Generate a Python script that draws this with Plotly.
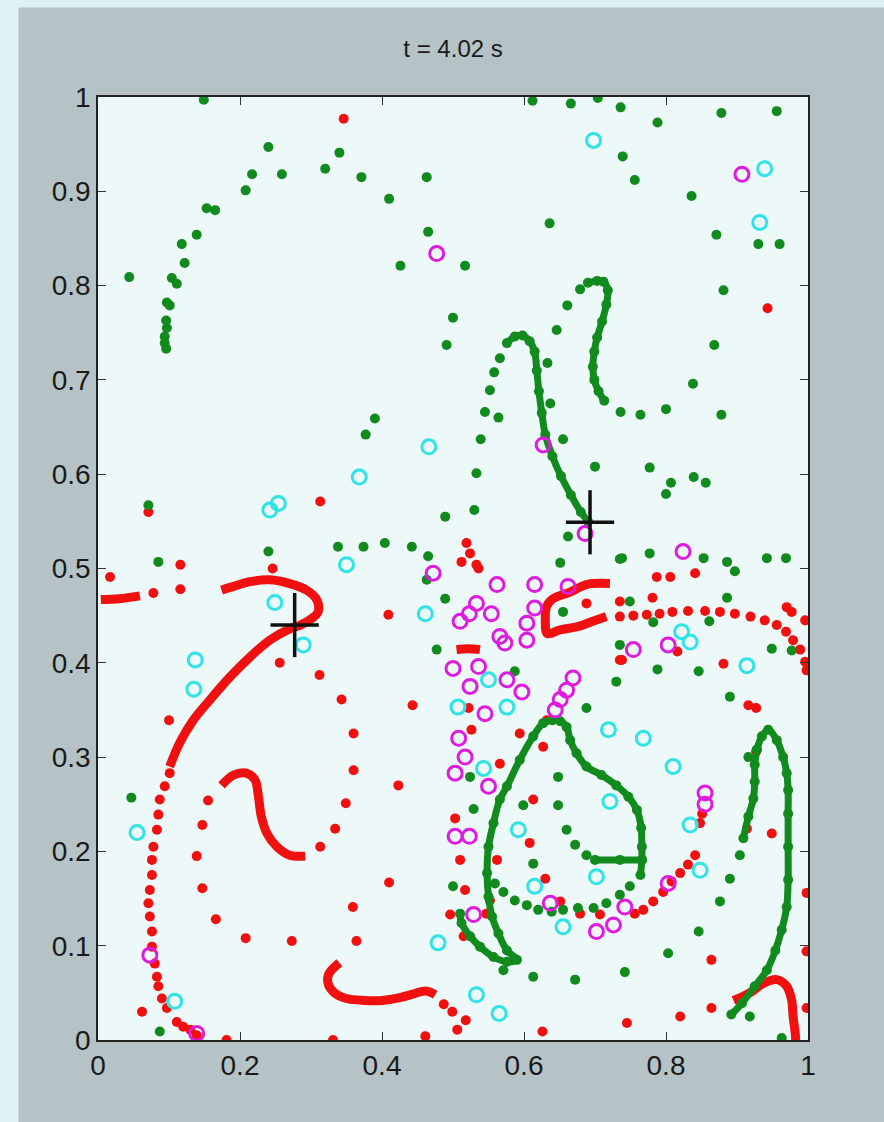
import plotly.graph_objects as go

# ---------------- tracer positions, t = 4.02 s ----------------
# dense material lines (drawn as continuous streaks)
red_curves = [
    # left hook and long diagonal
    [(0.174, 0.477), (0.191, 0.481), (0.214, 0.486), (0.242, 0.488), (0.270, 0.484),
     (0.294, 0.477), (0.308, 0.467), (0.310, 0.454), (0.301, 0.447), (0.285, 0.440),
     (0.270, 0.436), (0.242, 0.424), (0.214, 0.406), (0.186, 0.385), (0.158, 0.361),
     (0.134, 0.339), (0.115, 0.315), (0.101, 0.290)],
    # inner S streak
    [(0.174, 0.270), (0.191, 0.281), (0.209, 0.283), (0.221, 0.276), (0.226, 0.258),
     (0.230, 0.237), (0.238, 0.219), (0.252, 0.205), (0.270, 0.196), (0.292, 0.195)],
    # bottom streak
    [(0.340, 0.082), (0.325, 0.070), (0.324, 0.060), (0.333, 0.050), (0.350, 0.044),
     (0.375, 0.042), (0.400, 0.042), (0.425, 0.045), (0.445, 0.049), (0.462, 0.052),
     (0.475, 0.048)],
    # C-shaped roll-up right of centre
    [(0.721, 0.484), (0.688, 0.483), (0.665, 0.475), (0.641, 0.468), (0.632, 0.460),
     (0.630, 0.445), (0.633, 0.431), (0.651, 0.435), (0.674, 0.438), (0.697, 0.444),
     (0.716, 0.449)],
    # bottom-right hook
    [(0.895, 0.042), (0.918, 0.050), (0.937, 0.060), (0.956, 0.064), (0.970, 0.057),
     (0.977, 0.042), (0.979, 0.025), (0.982, 0.007), (0.983, -0.005)],
    # left-edge stub
    [(0.004, 0.467), (0.030, 0.468), (0.059, 0.471)],
    # short bar in the centre cluster
    [(0.505, 0.414), (0.522, 0.415), (0.538, 0.414)],
]

red_dots = [
    (0.346, 0.977), (0.943, 0.776), (0.071, 0.560), (0.313, 0.571), (0.246, 0.500),
    (0.116, 0.478), (0.116, 0.504), (0.078, 0.474), (0.017, 0.491),
    (0.256, 0.400), (0.312, 0.387), (0.343, 0.361), (0.360, 0.325), (0.360, 0.286),
    (0.100, 0.339), (0.409, 0.451), (0.443, 0.355), (0.423, 0.270), (0.349, 0.251),
    (0.334, 0.224), (0.313, 0.205), (0.410, 0.167), (0.359, 0.141), (0.364, 0.105),
    (0.273, 0.105), (0.208, 0.108), (0.166, 0.128), (0.147, 0.161), (0.139, 0.195),
    (0.147, 0.228), (0.155, 0.254),
    # left chain
    (0.101, 0.283), (0.094, 0.269), (0.087, 0.255), (0.085, 0.239), (0.083, 0.223),
    (0.078, 0.205), (0.076, 0.191), (0.076, 0.175), (0.073, 0.159), (0.071, 0.145),
    (0.073, 0.131), (0.076, 0.115), (0.076, 0.099), (0.080, 0.081), (0.083, 0.067),
    (0.085, 0.057), (0.090, 0.044), (0.097, 0.034), (0.111, 0.019), (0.120, 0.014),
    (0.130, 0.011), (0.139, 0.005),
    (0.062, 0.030), (0.181, 0.000), (0.331, 0.000), (0.461, 0.004),
    (0.487, 0.038), (0.499, 0.030), (0.518, 0.021), (0.506, 0.011), (0.626, 0.009),
    (0.745, 0.018), (0.820, 0.025), (0.864, 0.034), (0.864, 0.085), (0.998, 0.156),
    (0.998, 0.094), (0.998, 0.034), (0.949, 0.219), (0.914, 0.224), (0.848, 0.230),
    (0.851, 0.240),
    # diagonal chain lower right
    (0.756, 0.134), (0.768, 0.138), (0.782, 0.147), (0.796, 0.157), (0.808, 0.168),
    (0.820, 0.177), (0.831, 0.186), (0.841, 0.196),
    (0.707, 0.133), (0.679, 0.134), (0.651, 0.147), (0.630, 0.171), (0.608, 0.209),
    (0.613, 0.255), (0.503, 0.235), (0.510, 0.191), (0.562, 0.191), (0.517, 0.159),
    (0.496, 0.133), (0.552, 0.148), (0.547, 0.134), (0.515, 0.110), (0.594, 0.325),
    (0.627, 0.311), (0.566, 0.293), (0.526, 0.329), (0.735, 0.403), (0.632, 0.339),
    (0.522, 0.352),
    # centre cluster
    (0.519, 0.527), (0.524, 0.516), (0.512, 0.507), (0.536, 0.500), (0.533, 0.504),
    (0.688, 0.463), (0.735, 0.465), (0.787, 0.491), (0.806, 0.491), (0.841, 0.495),
    (0.781, 0.469), (0.738, 0.403), (0.816, 0.412), (0.881, 0.399), (0.916, 0.355),
    (0.927, 0.352), (0.927, 0.306),
    # large arc to the right wall
    (0.735, 0.449), (0.754, 0.450), (0.773, 0.451), (0.791, 0.452), (0.809, 0.454),
    (0.831, 0.455), (0.855, 0.455), (0.876, 0.454), (0.897, 0.452), (0.919, 0.449),
    (0.939, 0.445), (0.956, 0.440), (0.969, 0.433), (0.979, 0.424), (0.989, 0.414),
    (0.996, 0.401), (0.998, 0.392), (0.970, 0.459), (0.977, 0.454), (0.996, 0.445),
]

green_curves = [
    # tall lobe ending at the right vortex
    [(0.576, 0.739), (0.587, 0.746), (0.598, 0.747), (0.608, 0.741), (0.615, 0.730),
     (0.618, 0.710), (0.621, 0.688), (0.625, 0.665), (0.630, 0.642), (0.640, 0.619),
     (0.652, 0.598), (0.666, 0.578), (0.680, 0.560), (0.690, 0.550)],
    # hook upper right
    [(0.690, 0.803), (0.703, 0.805), (0.712, 0.804), (0.718, 0.795), (0.716, 0.780),
     (0.710, 0.762), (0.703, 0.745), (0.699, 0.730), (0.697, 0.714), (0.699, 0.700),
     (0.705, 0.688), (0.713, 0.678)],
    # loop below centre
    [(0.510, 0.134), (0.512, 0.124), (0.524, 0.110), (0.538, 0.099), (0.557, 0.088),
     (0.576, 0.083), (0.590, 0.085), (0.576, 0.095), (0.564, 0.113), (0.555, 0.131),
     (0.550, 0.152), (0.548, 0.177), (0.550, 0.205), (0.557, 0.230), (0.566, 0.255),
     (0.576, 0.269), (0.594, 0.297), (0.613, 0.322), (0.627, 0.336), (0.640, 0.339),
     (0.651, 0.338), (0.660, 0.332), (0.665, 0.318), (0.674, 0.304), (0.688, 0.290),
     (0.709, 0.281), (0.730, 0.270), (0.747, 0.258), (0.759, 0.244), (0.765, 0.225),
     (0.766, 0.205), (0.766, 0.191), (0.764, 0.175)],
    [(0.700, 0.191), (0.735, 0.191), (0.766, 0.191)],
    # arch at the right wall
    [(0.928, 0.308), (0.935, 0.322), (0.944, 0.329), (0.956, 0.318), (0.965, 0.300),
     (0.970, 0.283), (0.972, 0.265), (0.972, 0.240), (0.972, 0.205), (0.972, 0.170),
     (0.970, 0.141), (0.963, 0.117), (0.954, 0.095), (0.942, 0.074), (0.925, 0.057),
     (0.907, 0.039), (0.892, 0.027)],
    [(0.928, 0.308), (0.925, 0.292), (0.925, 0.274), (0.923, 0.256), (0.916, 0.237),
     (0.909, 0.214)],
]

green_dots = [
    (0.149, 0.997), (0.240, 0.947), (0.217, 0.918), (0.208, 0.901), (0.259, 0.918),
    (0.320, 0.924), (0.340, 0.941), (0.371, 0.915), (0.410, 0.892), (0.463, 0.915),
    (0.465, 0.857), (0.426, 0.821), (0.517, 0.821), (0.500, 0.766), (0.491, 0.737),
    (0.390, 0.659), (0.377, 0.642),
    (0.153, 0.882), (0.165, 0.880), (0.139, 0.854), (0.118, 0.844), (0.122, 0.824),
    (0.104, 0.808), (0.111, 0.802), (0.044, 0.809), (0.097, 0.782), (0.101, 0.779),
    (0.096, 0.763), (0.097, 0.755), (0.094, 0.746), (0.094, 0.739), (0.096, 0.733),
    (0.612, 0.996), (0.666, 0.993), (0.704, 0.999), (0.736, 0.989), (0.788, 0.973),
    (0.878, 0.983), (0.956, 0.985), (0.739, 0.937), (0.756, 0.912), (0.836, 0.895),
    (0.636, 0.866), (0.871, 0.854), (0.930, 0.844), (0.960, 0.844), (0.881, 0.795),
    (0.868, 0.737), (0.838, 0.696), (0.878, 0.663),
    (0.646, 0.753), (0.661, 0.779), (0.679, 0.796), (0.736, 0.666), (0.764, 0.663),
    (0.800, 0.669),
    (0.566, 0.723), (0.558, 0.708), (0.552, 0.689), (0.545, 0.666), (0.539, 0.637),
    (0.533, 0.601), (0.530, 0.562),
    (0.700, 0.608), (0.777, 0.607), (0.807, 0.591), (0.800, 0.579), (0.839, 0.597),
    (0.856, 0.591), (0.777, 0.516), (0.738, 0.511), (0.853, 0.511), (0.886, 0.507),
    (0.897, 0.497), (0.942, 0.511), (0.969, 0.511), (0.749, 0.465), (0.886, 0.469),
    (0.782, 0.443), (0.861, 0.444), (0.949, 0.415), (0.977, 0.413), (0.788, 0.393),
    (0.846, 0.391), (0.890, 0.364), (0.916, 0.300),
    (0.564, 0.660), (0.633, 0.718), (0.637, 0.675), (0.655, 0.637),
    (0.338, 0.523), (0.374, 0.523), (0.404, 0.527), (0.442, 0.523), (0.465, 0.513),
    (0.489, 0.555), (0.662, 0.534), (0.651, 0.506), (0.735, 0.510), (0.240, 0.518),
    (0.085, 0.507), (0.071, 0.567),
    (0.489, 0.468), (0.477, 0.414), (0.463, 0.488), (0.655, 0.454), (0.587, 0.391),
    (0.730, 0.380), (0.735, 0.419), (0.688, 0.352), (0.648, 0.279), (0.648, 0.249),
    (0.599, 0.249), (0.529, 0.245), (0.524, 0.279),
    (0.660, 0.223), (0.672, 0.207), (0.688, 0.196),
    (0.749, 0.163), (0.735, 0.154), (0.716, 0.145), (0.698, 0.140), (0.676, 0.140),
    (0.655, 0.138), (0.639, 0.136), (0.620, 0.138), (0.604, 0.143), (0.587, 0.148),
    (0.571, 0.157), (0.559, 0.166), (0.613, 0.187), (0.500, 0.163), (0.571, 0.074),
    (0.846, 0.115), (0.803, 0.092), (0.742, 0.072), (0.672, 0.064), (0.613, 0.067),
    (0.918, 0.025), (0.904, 0.196), (0.890, 0.171), (0.876, 0.147),
    (0.047, 0.257), (0.087, 0.009), (0.963, 0.002),
]

cyan_rings = [
    (0.698, 0.954), (0.939, 0.924), (0.932, 0.867), (0.466, 0.629), (0.368, 0.597),
    (0.242, 0.562), (0.254, 0.569), (0.350, 0.504), (0.249, 0.464), (0.289, 0.419),
    (0.137, 0.403), (0.135, 0.372), (0.055, 0.220), (0.108, 0.041), (0.461, 0.452),
    (0.550, 0.382), (0.507, 0.353), (0.576, 0.353), (0.543, 0.288), (0.719, 0.329),
    (0.768, 0.320), (0.810, 0.290), (0.721, 0.253), (0.822, 0.433), (0.834, 0.422),
    (0.914, 0.397), (0.834, 0.228), (0.848, 0.180), (0.592, 0.223), (0.615, 0.163),
    (0.702, 0.173), (0.655, 0.120), (0.479, 0.103), (0.533, 0.048), (0.565, 0.028),
]

magenta_rings = [
    (0.477, 0.834), (0.907, 0.918), (0.627, 0.631), (0.686, 0.537), (0.472, 0.495),
    (0.562, 0.483), (0.615, 0.483), (0.662, 0.481), (0.533, 0.463), (0.523, 0.452),
    (0.510, 0.444), (0.554, 0.452), (0.615, 0.458), (0.604, 0.442), (0.604, 0.424),
    (0.566, 0.428), (0.573, 0.421), (0.500, 0.394), (0.536, 0.396), (0.524, 0.375),
    (0.576, 0.382), (0.597, 0.369), (0.545, 0.346), (0.508, 0.320), (0.517, 0.300),
    (0.503, 0.283), (0.550, 0.269), (0.669, 0.384), (0.660, 0.371), (0.651, 0.361),
    (0.644, 0.350), (0.824, 0.518), (0.754, 0.414), (0.803, 0.419), (0.855, 0.262),
    (0.855, 0.250), (0.503, 0.216), (0.523, 0.216), (0.529, 0.133), (0.637, 0.145),
    (0.742, 0.141), (0.726, 0.122), (0.702, 0.115), (0.803, 0.166), (0.073, 0.090),
    (0.139, 0.007),
]

vortex_centres = [(0.277, 0.440), (0.693, 0.549)]
cross_half_width = 0.034
cross_half_height = 0.034

x_ticks = [0, 0.2, 0.4, 0.6, 0.8, 1]
x_tick_text = ["0", "0.2", "0.4", "0.6", "0.8", "1"]
y_ticks = [0, 0.1, 0.2, 0.3, 0.4, 0.5, 0.6, 0.7, 0.8, 0.9, 1]
y_tick_text = ["0", "0.1", "0.2", "0.3", "0.4", "0.5", "0.6", "0.7", "0.8", "0.9", "1"]

RED = "#f01010"
GREEN = "#118a1e"
CYAN = "#2fe3e6"
MAGENTA = "#e01be0"
LABEL_FONT = "Liberation Sans, Arial, sans-serif"


def split(pairs):
    return [p[0] for p in pairs], [p[1] for p in pairs]


def joined(curves):
    xs, ys = [], []
    for c in curves:
        cx, cy = split(c)
        xs += cx + [None]
        ys += cy + [None]
    return xs, ys


fig = go.Figure()

rx, ry = joined(red_curves)
fig.add_trace(go.Scatter(x=rx, y=ry, mode="lines",
                         line=dict(color=RED, width=9, shape="spline"), hoverinfo="skip"))
x, y = split(red_dots)
fig.add_trace(go.Scatter(x=x, y=y, mode="markers",
                         marker=dict(color=RED, size=10, symbol="circle")))

gx, gy = joined(green_curves)
fig.add_trace(go.Scatter(x=gx, y=gy, mode="lines+markers",
                         line=dict(color=GREEN, width=7, shape="spline"),
                         marker=dict(color=GREEN, size=10)))
x, y = split(green_dots)
fig.add_trace(go.Scatter(x=x, y=y, mode="markers",
                         marker=dict(color=GREEN, size=10, symbol="circle")))

x, y = split(cyan_rings)
fig.add_trace(go.Scatter(x=x, y=y, mode="markers",
                         marker=dict(symbol="circle-open", size=14, color=CYAN,
                                     line=dict(width=3, color=CYAN))))
x, y = split(magenta_rings)
fig.add_trace(go.Scatter(x=x, y=y, mode="markers",
                         marker=dict(symbol="circle-open", size=14, color=MAGENTA,
                                     line=dict(width=3, color=MAGENTA))))

x, y = split(vortex_centres)
fig.add_trace(go.Scatter(
    x=x, y=y, mode="markers", marker=dict(size=1, color="rgba(0,0,0,0)"),
    error_x=dict(type="constant", value=cross_half_width, width=0, thickness=3.5, color="#111"),
    error_y=dict(type="constant", value=cross_half_height, width=0, thickness=3.5, color="#111"),
))

axis_common = dict(
    range=[0, 1], showgrid=False, zeroline=False,
    showline=True, linecolor="#222", linewidth=1.5, mirror="ticks",
    ticks="inside", ticklen=8, tickwidth=1.2, tickcolor="#333",
    tickfont=dict(family=LABEL_FONT, size=28, color="#1a1a1a"),
)

fig.update_layout(
    width=884, height=1122,
    margin=dict(l=98, r=76, t=97, b=82),
    paper_bgcolor="#b6c3c6",
    plot_bgcolor="#edf8f8",
    showlegend=False,
    title=dict(text="t = 4.02 s", x=0.5125, xanchor="center", y=0.957, yanchor="middle",
               yref="container",
               font=dict(family=LABEL_FONT, size=24, color="#1a1a1a")),
    xaxis=dict(axis_common, tickvals=x_ticks, ticktext=x_tick_text),
    yaxis=dict(axis_common, tickvals=y_ticks, ticktext=y_tick_text),
    shapes=[
        dict(type="rect", xref="paper", yref="paper", x0=-0.2, x1=-0.112, y0=-0.2, y1=1.2,
             fillcolor="#dcf2f6", line=dict(width=0), layer="below"),
        dict(type="rect", xref="paper", yref="paper", x0=-0.2, x1=1.2, y0=1.095, y1=1.2,
             fillcolor="#dcf2f6", line=dict(width=0), layer="below"),
    ],
)

fig.write_html("out.html")
